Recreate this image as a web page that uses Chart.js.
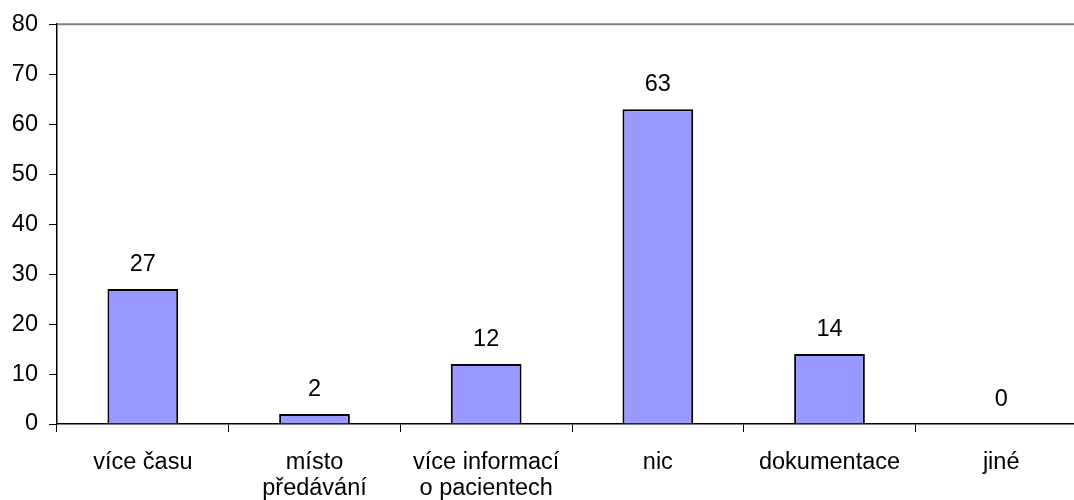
<!DOCTYPE html>
<html>
<head>
<meta charset="utf-8">
<script src="https://cdn.jsdelivr.net/npm/chart.js@4.4.0/dist/chart.umd.min.js"></script>
<style>
html,body{margin:0;padding:0;background:#fff;overflow:hidden;width:1074px;height:500px;}
#wrap{position:absolute;left:0;top:0;width:1087px;height:500px;}
</style>
</head>
<body>
<div id="wrap"><canvas id="c"></canvas></div>
<script>
const categories = ['více času', ['místo', 'předávání'], ['více informací', 'o pacientech'], 'nic', 'dokumentace', 'jiné'];
const values = [27, 2, 12, 63, 14, 0];
const yTicks = [0, 10, 20, 30, 40, 50, 60, 70, 80];

const FONT = {family: 'Liberation Sans, Arial, sans-serif', size: 23.5, lineHeight: 1.12};

const valueLabels = {
  id: 'valueLabels',
  afterDatasetsDraw(chart) {
    const ctx = chart.ctx;
    const meta = chart.getDatasetMeta(0);
    ctx.save();
    ctx.font = `${FONT.size}px ${FONT.family}`;
    ctx.fillStyle = '#000';
    ctx.textAlign = 'center';
    ctx.textBaseline = 'alphabetic';
    meta.data.forEach((bar, i) => {
      ctx.fillText(String(values[i]), bar.x, bar.y - 18);
    });
    ctx.restore();
  }
};

const topLine = {
  id: 'topLine',
  beforeDatasetsDraw(chart) {
    const {ctx, chartArea} = chart;
    ctx.save();
    ctx.strokeStyle = '#808080';
    ctx.lineWidth = 2;
    ctx.beginPath();
    ctx.moveTo(chartArea.left, chartArea.top);
    ctx.lineTo(chartArea.right, chartArea.top);
    ctx.stroke();
    ctx.restore();
  }
};

new Chart(document.getElementById('c'), {
  type: 'bar',
  data: {
    labels: categories,
    datasets: [{
      data: values,
      backgroundColor: '#9999FF',
      borderColor: '#000',
      borderWidth: 2,
      borderSkipped: 'bottom',
      categoryPercentage: 1,
      barPercentage: 0.412
    }]
  },
  options: {
    responsive: true,
    maintainAspectRatio: false,
    animation: false,
    devicePixelRatio: 1,
    layout: {padding: {top: 23, left: 0, right: 0, bottom: 0}},
    plugins: {legend: {display: false}, tooltip: {enabled: false}},
    scales: {
      x: {
        grid: {display: true, drawOnChartArea: false, drawTicks: true, tickLength: 8, color: '#000', offset: true},
        border: {display: true, color: '#000', width: 1.5},
        ticks: {color: '#000', font: FONT, padding: 17, maxRotation: 0, autoSkip: false},
        afterFit(scale) { scale.height = 76; }
      },
      y: {
        min: 0, max: 80,
        afterBuildTicks(scale) { scale.ticks = yTicks.map(v => ({value: v})); },
        grid: {display: true, drawOnChartArea: false, drawTicks: true, tickLength: 8, color: '#000'},
        border: {display: true, color: '#000', width: 1.5},
        ticks: {color: '#000', font: FONT, padding: 11},
        afterFit(scale) { scale.width = 57; }
      }
    }
  },
  plugins: [valueLabels, topLine]
});
</script>
</body>
</html>
